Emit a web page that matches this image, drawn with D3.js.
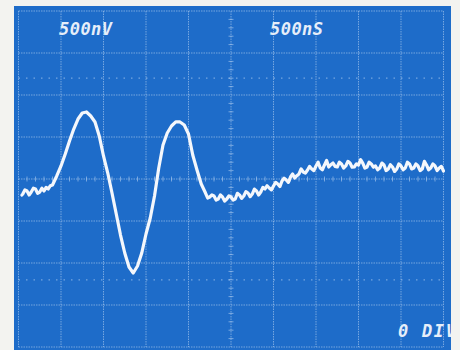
<!DOCTYPE html>
<html>
<head>
<meta charset="utf-8">
<script src="https://cdn.jsdelivr.net/npm/d3@7"></script>
<style>
  html, body { margin: 0; padding: 0; background: #f3f3f0; }
  svg { display: block; }
</style>
</head>
<body>
<svg id="scope" width="460" height="350"></svg>
<script>
// Scope settings shown on screen
const voltLabel = "500nV";
const timeLabel = "500nS";
const posLabel = "0 DIV";

// Graticule divisions (ns on the time axis, nV on the vertical axis)
const timeDivs = [0, 500, 1000, 1500, 2000, 2500, 3000, 3500, 4000, 4500, 5000];
const voltDivs = [-2000, -1500, -1000, -500, 0, 500, 1000, 1500, 2000];
const markerLevels = [-1200, 1200];

// Captured trace: sample time (ns) and amplitude (nV)
const sampleTimes = [
  40, 50, 75, 100, 125, 150, 175, 200, 225, 250, 275, 300, 325, 350, 375, 400, 450,
  500, 550, 600, 650, 700, 750, 800, 850, 900, 950,
  1000, 1050, 1100, 1150, 1200, 1250, 1300, 1350, 1400, 1450,
  1500, 1550, 1600, 1650, 1700, 1750, 1800, 1850, 1900, 1950,
  2000, 2050, 2100, 2150,
  2200, 2225, 2250, 2275, 2300, 2325, 2350, 2375, 2400, 2425, 2450, 2475,
  2500, 2525, 2550, 2575, 2600, 2625, 2650, 2675, 2700, 2725, 2750, 2775,
  2800, 2825, 2850, 2875, 2900, 2925, 2950, 2975, 3000, 3025, 3050, 3075,
  3100, 3125, 3150, 3175, 3200, 3225, 3250, 3275, 3300, 3325, 3350, 3375,
  3400, 3425, 3450, 3475, 3500, 3525, 3550, 3575, 3600, 3625, 3650, 3675,
  3700, 3725, 3750, 3775, 3800, 3825, 3850, 3875, 3900, 3925, 3950, 3975,
  4000, 4025, 4050, 4075, 4100, 4125, 4150, 4175, 4200, 4225, 4250, 4275,
  4300, 4325, 4350, 4375, 4400, 4425, 4450, 4475, 4500, 4525, 4550, 4575,
  4600, 4625, 4650, 4675, 4700, 4725, 4750, 4775, 4800, 4825, 4850, 4875,
  4900, 4925, 4950, 4975, 5000
];
const sampleValues = [
  -190, -179, -130, -143, -190, -155, -110, -119, -170, -155, -110, -143, -100, -119, -80, -71, 36,
  155, 298, 452, 595, 714, 786, 798, 750, 679, 512,
  274, 71, -167, -417, -667, -881, -1048, -1119, -1036, -881,
  -655, -464, -202, 131, 405, 548, 631, 679, 679, 643,
  536, 286, 107, -60,
  -167, -226, -214, -190, -202, -250, -238, -190, -214, -262, -238, -200,
  -214, -250, -238, -170, -190, -230, -202, -150, -167, -210, -179, -120,
  -143, -190, -155, -100, -119, -80, -107, -130, -83, -40, -60, -90,
  -24, 10, -12, -40, 24, 60, 12, 40, 60, 120, 83, 70,
  107, 150, 119, 100, 155, 200, 131, 110, 167, 220, 143, 170,
  190, 150, 143, 200, 179, 130, 155, 210, 190, 140, 143, 180,
  167, 230, 190, 130, 143, 200, 179, 140, 155, 110, 131, 190,
  167, 100, 119, 170, 143, 90, 119, 180, 155, 110, 131, 200,
  179, 120, 131, 180, 155, 100, 119, 210, 167, 110, 131, 180,
  155, 100, 131, 150, 95
];

const svg = d3.select("#scope");

const screen = { x0: 14, y0: 6, x1: 451, y1: 350 };

const x = d3.scaleLinear().domain([0, 5000]).range([18.5, 443.5]);
const y = d3.scaleLinear().domain([-2000, 2000]).range([347, 11]);

const defs = svg.append("defs");
defs.append("clipPath").attr("id", "screenClip")
  .append("rect")
  .attr("x", screen.x0).attr("y", screen.y0)
  .attr("width", screen.x1 - screen.x0).attr("height", screen.y1 - screen.y0);
const glow = defs.append("filter").attr("id", "soft")
  .attr("x", "-5%").attr("y", "-5%").attr("width", "110%").attr("height", "110%");
glow.append("feGaussianBlur").attr("stdDeviation", 0.5);

// CRT screen
svg.append("rect")
  .attr("x", screen.x0).attr("y", screen.y0)
  .attr("width", screen.x1 - screen.x0).attr("height", screen.y1 - screen.y0)
  .attr("fill", "#1e6cc9");

const g = svg.append("g").attr("clip-path", "url(#screenClip)");

const gridColor = "rgba(205,225,250,0.5)";

// Vertical graticule lines
g.append("g").selectAll("line").data(timeDivs).join("line")
  .attr("x1", d => x(d)).attr("x2", d => x(d))
  .attr("y1", y(2000)).attr("y2", y(-2000))
  .attr("stroke", gridColor).attr("stroke-width", 1)
  .attr("stroke-dasharray", "1.5,1");

// Horizontal graticule lines
g.append("g").selectAll("line").data(voltDivs).join("line")
  .attr("x1", x(0)).attr("x2", x(5000))
  .attr("y1", d => y(d)).attr("y2", d => y(d))
  .attr("stroke", gridColor).attr("stroke-width", 1)
  .attr("stroke-dasharray", "1.5,1");

// Rise-time marker lines
g.append("g").selectAll("line").data(markerLevels).join("line")
  .attr("x1", x(0)).attr("x2", x(5000))
  .attr("y1", d => y(d)).attr("y2", d => y(d))
  .attr("stroke", "rgba(205,225,250,0.5)").attr("stroke-width", 1.2)
  .attr("stroke-dasharray", "1.5,6");

// Minor ticks on the centre axes (5 per division)
const minorT = d3.range(0, 5001, 100).filter(t => t % 500 !== 0);
const minorV = d3.range(-2000, 2001, 100).filter(v => v % 500 !== 0);
g.append("g").selectAll("line").data(minorT).join("line")
  .attr("x1", d => x(d)).attr("x2", d => x(d))
  .attr("y1", y(0) - 2.5).attr("y2", y(0) + 2.5)
  .attr("stroke", gridColor).attr("stroke-width", 1);
g.append("g").selectAll("line").data(minorV).join("line")
  .attr("x1", x(2500) - 2.5).attr("x2", x(2500) + 2.5)
  .attr("y1", d => y(d)).attr("y2", d => y(d))
  .attr("stroke", gridColor).attr("stroke-width", 1);

// Trace
const points = sampleTimes.map((t, i) => [t, sampleValues[i]]);
const line = d3.line().x(d => x(d[0])).y(d => y(d[1])).curve(d3.curveLinear);
g.append("path")
  .datum(points)
  .attr("d", line)
  .attr("fill", "none")
  .attr("stroke", "#f4f7fc")
  .attr("stroke-width", 3.2)
  .attr("stroke-linejoin", "round")
  .attr("stroke-linecap", "round")
  .attr("filter", "url(#soft)");

// Readout text
const readout = g.append("g")
  .attr("font-family", "'DejaVu Sans Mono', monospace")
  .attr("font-style", "italic")
  .attr("font-weight", "bold")
  .attr("font-size", 17)
  .attr("fill", "#e6eef9");
readout.append("text").attr("x", 59).attr("y", 35).attr("textLength", 53).text(voltLabel);
readout.append("text").attr("x", 270).attr("y", 35).attr("textLength", 53).text(timeLabel);
readout.append("text").attr("x", 398).attr("y", 337).attr("textLength", 58).text(posLabel);
</script>
</body>
</html>
